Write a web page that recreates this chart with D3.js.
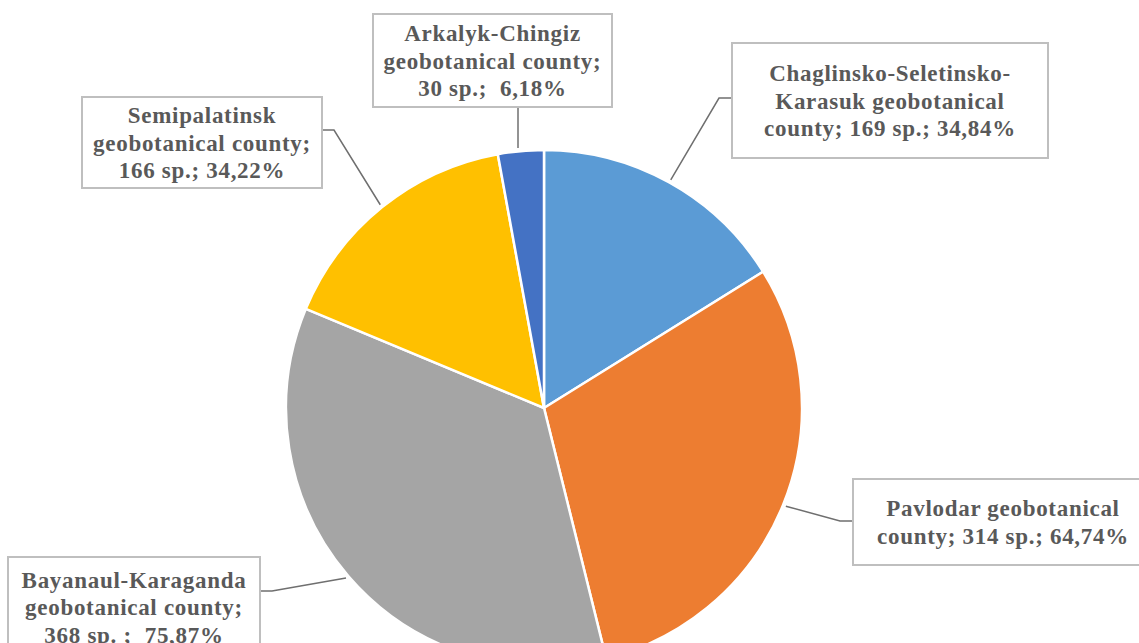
<!DOCTYPE html>
<html>
<head>
<meta charset="utf-8">
<script src="https://cdn.jsdelivr.net/npm/d3@7"></script>
<style>
  body { margin: 0; background: #fff; }
  svg { display: block; }
</style>
</head>
<body>
<div id="chart"></div>
<script>
// Data
const counties = ["Chaglinsko-Seletinsko-Karasuk", "Pavlodar", "Bayanaul-Karaganda", "Semipalatinsk", "Arkalyk-Chingiz"];
const species = [169, 314, 368, 166, 30];
const percents = ["34,84%", "64,74%", "75,87%", "34,22%", "6,18%"];
const labelLines = [
  ["Chaglinsko-Seletinsko-", "Karasuk geobotanical", "county; 169 sp.; 34,84%"],
  ["Pavlodar geobotanical", "county; 314 sp.; 64,74%"],
  ["Bayanaul-Karaganda", "geobotanical county;", "368 sp. ;  75,87%"],
  ["Semipalatinsk", "geobotanical county;", "166 sp.; 34,22%"],
  ["Arkalyk-Chingiz", "geobotanical county;", "30 sp.;  6,18%"]
];
const colors = ["#5B9BD5", "#ED7D31", "#A5A5A5", "#FFC000", "#4472C4"];

// Label box layout: x, y, w, h, and leader attach point on box
const boxes = [
  {x: 732, y: 43, w: 316, h: 115, ax: 732, ay: 98, side: "left"},
  {x: 853, y: 479, w: 300, h: 86, ax: 853, ay: 521, side: "left"},
  {x: 8, y: 557, w: 252, h: 100, ax: 260, ay: 591, side: "right"},
  {x: 82, y: 97, w: 240, h: 91, ax: 322, ay: 130, side: "right"},
  {x: 373, y: 14, w: 239, h: 93, ax: 518, ay: 107, side: "bottom"}
];

const width = 1139, height = 643;
const cx = 544, cy = 408, radius = 258;

const svg = d3.select("#chart").append("svg")
  .attr("width", width)
  .attr("height", height);

const data = counties.map((c, i) => ({county: c, value: species[i], pct: percents[i], lines: labelLines[i], color: colors[i], box: boxes[i]}));

const pie = d3.pie().sort(null).value(d => d.value);
const arc = d3.arc().innerRadius(0).outerRadius(radius);
const arcs = pie(data);

const g = svg.append("g").attr("transform", `translate(${cx}, ${cy})`);

g.selectAll("path")
  .data(arcs)
  .enter().append("path")
    .attr("d", arc)
    .style("fill", d => d.data.color)
    .style("stroke", "#fff")
    .style("stroke-width", 2.5);

// Leader lines
arcs.forEach(d => {
  const mid = (d.startAngle + d.endAngle) / 2;
  const px = cx + (radius + 3) * Math.sin(mid);
  const py = cy - (radius + 3) * Math.cos(mid);
  const b = d.data.box;
  let pts;
  if (b.side === "bottom") {
    pts = [[b.ax, b.ay], [b.ax, py]];
  } else {
    const elbow = b.side === "left" ? b.ax - 13 : b.ax + 12;
    pts = [[px, py], [elbow, b.ay], [b.ax, b.ay]];
  }
  svg.append("path")
    .attr("d", d3.line()(pts))
    .style("fill", "none")
    .style("stroke", "#6f6f6f")
    .style("stroke-width", 1.5);
});

// Label boxes
const label = svg.selectAll(".label")
  .data(data)
  .enter().append("g")
    .attr("class", "label");

label.append("rect")
  .attr("x", d => d.box.x)
  .attr("y", d => d.box.y)
  .attr("width", d => d.box.w)
  .attr("height", d => d.box.h)
  .style("fill", "#fff")
  .style("stroke", "#bfbfbf")
  .style("stroke-width", 2);

label.each(function(d) {
  const b = d.box;
  const lh = 27.5;
  const n = d.lines.length;
  const x0 = b.x + b.w / 2;
  const y0 = b.y + b.h / 2 - (n - 1) * lh / 2;
  d3.select(this).selectAll("text")
    .data(d.lines)
    .enter().append("text")
      .attr("x", x0)
      .attr("y", (t, i) => y0 + i * lh)
      .attr("dy", "0.35em")
      .attr("font-family", "'Times New Roman', Times, 'Noto Serif', 'Liberation Serif', serif")
      .attr("font-weight", "bold")
      .attr("font-size", 23)
      .attr("letter-spacing", 0.7)
      .attr("fill", "#595959")
      .style("text-anchor", "middle")
      .style("white-space", "pre")
      .text(t => t);
});
</script>
</body>
</html>
